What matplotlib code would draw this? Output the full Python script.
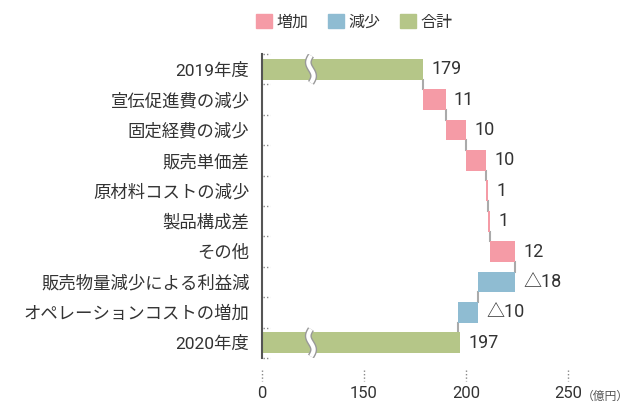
import numpy as np
import matplotlib.pyplot as plt
from matplotlib.patches import Patch

plt.rcParams['font.family'] = ['Roboto', 'Noto Sans CJK JP', 'DejaVu Sans']

categories = ["2019年度", "宣伝促進費の減少", "固定経費の減少", "販売単価差", "原材料コストの減少",
              "製品構成差", "その他", "販売物量減少による利益減", "オペレーションコストの増加", "2020年度"]
changes = [179, 11, 10, 10, 1, 1, 12, -18, -10, 197]
kinds = ["total", "up", "up", "up", "up", "up", "up", "down", "down", "total"]
value_labels = ["179", "11", "10", "10", "1", "1", "12", "△18", "△10", "197"]
xticks = [100, 150, 200, 250]
xtick_labels = ["0", "150", "200", "250"]

colors = {"up": "#f59ba6", "down": "#8fbcd2", "total": "#b5c688"}
BASE = 100  # left edge of the broken axis ("0")

fig = plt.figure(figsize=(6.3, 4.05), dpi=100)
ax = fig.add_axes([262 / 630, 1 - 358 / 405, (568 - 262) / 630, (358 - 54) / 405])

y = np.arange(len(categories))
running = 0
ends = []
for i, (c, k) in enumerate(zip(changes, kinds)):
    if k == "total":
        left, right = BASE, c
        running = c
    else:
        prev = running
        running = prev + c
        left, right = min(prev, running), max(prev, running)
    ax.barh(i, right - left, left=left, height=0.68, color=colors[k], zorder=2)
    ends.append(running)
    ax.annotate(value_labels[i], (right, i), xytext=(6, 0), textcoords="offset points",
                va="center", ha="left", fontsize=13, color="#333333")

# connectors between bars
for i in range(len(categories) - 1):
    ax.plot([ends[i], ends[i]], [i + 0.34, i + 0.66], color="#aaaaaa", lw=1.5, zorder=1)

# break marks on total bars
t = np.linspace(-0.45, 0.45, 60)
for i in (0, len(categories) - 1):
    xs = 124 + 1.3 * np.sin(t / 0.45 * np.pi)
    ax.plot(xs, i + t, color="#999999", lw=5, solid_capstyle="butt", zorder=3)
    ax.plot(xs, i + t, color="white", lw=3, solid_capstyle="butt", zorder=4)

# small dotted ticks at category boundaries
for b in np.arange(-0.5, len(categories), 1.0):
    ax.plot([BASE + 0.5, BASE + 4], [b, b], color="#888888", lw=1, ls=(0, (1, 1.5)),
            clip_on=False, zorder=1)

# dotted x tick marks below the plot
for xt in xticks:
    ax.plot([xt, xt], [9.9, 10.25], color="#888888", lw=1, ls=(0, (1, 1.5)),
            clip_on=False)

ax.set_xlim(100, 250)
ax.set_ylim(len(categories) - 0.5, -0.5)
ax.set_yticks(y)
ax.set_yticklabels(categories, fontsize=12.5, color="#333333")
ax.set_xticks(xticks)
ax.set_xticklabels(xtick_labels, fontsize=12, color="#333333")
ax.tick_params(axis="y", length=0, pad=9)
ax.tick_params(axis="x", length=0, pad=20)
for s in ["top", "right", "bottom"]:
    ax.spines[s].set_visible(False)
ax.spines["left"].set_color("#555555")
ax.spines["left"].set_linewidth(1.5)
ax.spines["left"].set_zorder(5)

fig.text(582 / 630, 1 - 396 / 405, "（億円）", fontsize=8.5, color="#555555", va="center", ha="left")

handles = [Patch(color=colors["up"], label="増加"), Patch(color=colors["down"], label="減少"),
           Patch(color=colors["total"], label="合計")]
fig.legend(handles=handles, loc="center", bbox_to_anchor=(354 / 630, 1 - 22 / 405), ncol=3,
           frameon=False, fontsize=11.5, handlelength=1.0, handleheight=1.0,
           handletextpad=0.3, columnspacing=1.2, labelcolor="#333333")

fig.savefig("out.png", dpi=100)
